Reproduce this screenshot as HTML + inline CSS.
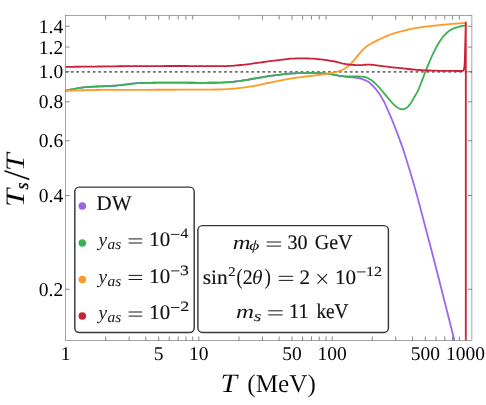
<!DOCTYPE html>
<html><head><meta charset="utf-8"><title>Plot</title><style>html,body{margin:0;padding:0;background:#fff}svg{display:block;text-rendering:geometricPrecision;will-change:transform}.ls{font-family:"Liberation Serif",serif}</style></head><body>
<svg width="486" height="405" viewBox="0 0 486 405">
<rect width="486" height="405" fill="#fff"/>
<path d="M65.5 71.8 H471.9" stroke="#6c6c6c" stroke-width="1.7" stroke-dasharray="2.6 2.87" fill="none"/>
<g fill="none" stroke-width="1.8" stroke-linejoin="round" stroke-linecap="butt">
<path d="M65.50 90.80 L67.08 90.43 L68.67 90.08 L70.25 89.74 L71.83 89.41 L73.42 89.10 L75.00 88.80 L76.67 88.49 L78.33 88.18 L80.00 87.88 L81.67 87.61 L83.33 87.38 L85.00 87.20 L87.00 87.04 L89.00 86.91 L91.00 86.79 L93.00 86.69 L95.00 86.59 L97.00 86.50 L99.17 86.41 L101.33 86.33 L103.50 86.26 L105.67 86.19 L107.83 86.10 L110.00 86.00 L112.00 85.88 L114.00 85.73 L116.00 85.56 L118.00 85.38 L120.00 85.19 L122.00 85.00 L124.67 84.71 L127.33 84.37 L130.00 84.01 L132.67 83.67 L135.33 83.39 L138.00 83.20 L140.00 83.10 L142.00 83.02 L144.00 82.95 L146.00 82.89 L148.00 82.84 L150.00 82.80 L151.67 82.78 L153.33 82.75 L155.00 82.73 L156.67 82.71 L158.33 82.70 L160.00 82.70 L163.67 82.70 L167.33 82.70 L171.00 82.70 L174.67 82.70 L178.33 82.70 L182.00 82.70 L185.00 82.71 L188.00 82.73 L191.00 82.75 L194.00 82.77 L197.00 82.79 L200.00 82.80 L202.95 82.80 L205.90 82.79 L208.85 82.77 L211.80 82.75 L214.75 82.73 L217.70 82.70 L219.80 82.65 L221.90 82.57 L224.00 82.45 L226.10 82.31 L228.20 82.16 L230.30 82.00 L232.38 81.82 L234.47 81.60 L236.55 81.35 L238.63 81.08 L240.72 80.79 L242.80 80.50 L244.90 80.19 L247.00 79.85 L249.10 79.50 L251.20 79.13 L253.30 78.76 L255.40 78.40 L257.50 78.03 L259.60 77.65 L261.70 77.26 L263.80 76.89 L265.90 76.53 L268.00 76.20 L270.08 75.90 L272.17 75.61 L274.25 75.34 L276.33 75.08 L278.42 74.83 L280.50 74.60 L282.58 74.37 L284.67 74.13 L286.75 73.91 L288.83 73.71 L290.92 73.53 L293.00 73.40 L294.32 73.33 L295.63 73.27 L296.95 73.21 L298.27 73.16 L299.58 73.13 L300.90 73.10 L302.70 73.07 L304.50 73.05 L306.30 73.03 L308.10 73.01 L309.90 73.00 L311.70 73.00 L313.52 73.01 L315.33 73.04 L317.15 73.09 L318.97 73.15 L320.78 73.22 L322.60 73.30 L324.42 73.41 L326.23 73.58 L328.05 73.80 L329.87 74.05 L331.68 74.32 L333.50 74.60 L334.58 74.80 L335.67 75.04 L336.75 75.30 L337.83 75.56 L338.92 75.80 L340.00 76.00 L341.67 76.25 L343.33 76.46 L345.00 76.66 L346.67 76.85 L348.33 77.02 L350.00 77.20 L351.37 77.33 L352.73 77.45 L354.10 77.56 L355.47 77.67 L356.83 77.82 L358.20 78.00 L358.88 78.12 L359.57 78.28 L360.25 78.46 L360.93 78.66 L361.62 78.88 L362.30 79.10 L363.00 79.33 L363.70 79.58 L364.40 79.85 L365.10 80.14 L365.80 80.46 L366.50 80.80 L367.18 81.17 L367.87 81.59 L368.55 82.04 L369.23 82.53 L369.92 83.05 L370.60 83.60 L371.28 84.19 L371.97 84.84 L372.65 85.53 L373.33 86.27 L374.02 87.02 L374.70 87.80 L375.38 88.60 L376.07 89.44 L376.75 90.31 L377.43 91.21 L378.12 92.14 L378.80 93.10 L379.28 93.80 L379.77 94.52 L380.25 95.26 L380.73 96.02 L381.22 96.80 L381.70 97.60 L382.15 98.36 L382.60 99.14 L383.05 99.94 L383.50 100.77 L383.95 101.62 L384.40 102.50 L385.00 103.73 L385.60 105.03 L386.20 106.37 L386.80 107.75 L387.40 109.13 L388.00 110.50 L388.68 112.05 L389.37 113.60 L390.05 115.17 L390.73 116.75 L391.42 118.36 L392.10 120.00 L392.77 121.64 L393.43 123.31 L394.10 125.01 L394.77 126.73 L395.43 128.47 L396.10 130.20 L396.72 131.81 L397.33 133.42 L397.95 135.04 L398.57 136.68 L399.18 138.33 L399.80 140.00 L400.42 141.68 L401.03 143.37 L401.65 145.08 L402.27 146.81 L402.88 148.58 L403.50 150.40 L404.12 152.28 L404.73 154.21 L405.35 156.19 L405.97 158.19 L406.58 160.20 L407.20 162.20 L407.82 164.19 L408.43 166.19 L409.05 168.20 L409.67 170.22 L410.28 172.25 L410.90 174.30 L411.55 176.48 L412.20 178.67 L412.85 180.87 L413.50 183.09 L414.15 185.34 L414.80 187.60 L415.42 189.77 L416.03 191.95 L416.65 194.16 L417.27 196.38 L417.88 198.63 L418.50 200.90 L419.12 203.20 L419.73 205.54 L420.35 207.90 L420.97 210.27 L421.58 212.64 L422.20 215.00 L422.82 217.35 L423.43 219.70 L424.05 222.05 L424.67 224.40 L425.28 226.75 L425.90 229.10 L427.03 233.41 L428.17 237.71 L429.30 242.01 L430.43 246.32 L431.57 250.65 L432.70 255.00 L434.50 261.96 L436.30 268.96 L438.10 275.98 L439.90 283.04 L441.70 290.11 L443.50 297.20 L445.32 304.37 L447.13 311.55 L448.95 318.76 L450.77 325.99 L452.58 333.23 L454.40 340.50" stroke="#9b66f2"/>
<path d="M65.50 90.80 L67.08 90.43 L68.67 90.08 L70.25 89.74 L71.83 89.41 L73.42 89.10 L75.00 88.80 L76.67 88.49 L78.33 88.18 L80.00 87.88 L81.67 87.61 L83.33 87.38 L85.00 87.20 L87.00 87.04 L89.00 86.91 L91.00 86.79 L93.00 86.69 L95.00 86.59 L97.00 86.50 L99.17 86.41 L101.33 86.33 L103.50 86.26 L105.67 86.19 L107.83 86.10 L110.00 86.00 L112.00 85.88 L114.00 85.73 L116.00 85.56 L118.00 85.38 L120.00 85.19 L122.00 85.00 L124.67 84.71 L127.33 84.37 L130.00 84.01 L132.67 83.67 L135.33 83.39 L138.00 83.20 L140.00 83.10 L142.00 83.02 L144.00 82.95 L146.00 82.89 L148.00 82.84 L150.00 82.80 L151.67 82.78 L153.33 82.75 L155.00 82.73 L156.67 82.71 L158.33 82.70 L160.00 82.70 L163.67 82.70 L167.33 82.70 L171.00 82.70 L174.67 82.70 L178.33 82.70 L182.00 82.70 L185.00 82.71 L188.00 82.73 L191.00 82.75 L194.00 82.77 L197.00 82.79 L200.00 82.80 L202.95 82.80 L205.90 82.79 L208.85 82.77 L211.80 82.75 L214.75 82.73 L217.70 82.70 L219.80 82.65 L221.90 82.57 L224.00 82.45 L226.10 82.31 L228.20 82.16 L230.30 82.00 L232.38 81.82 L234.47 81.60 L236.55 81.35 L238.63 81.08 L240.72 80.79 L242.80 80.50 L244.90 80.19 L247.00 79.85 L249.10 79.50 L251.20 79.13 L253.30 78.76 L255.40 78.40 L257.50 78.03 L259.60 77.65 L261.70 77.26 L263.80 76.89 L265.90 76.53 L268.00 76.20 L270.08 75.90 L272.17 75.61 L274.25 75.34 L276.33 75.08 L278.42 74.83 L280.50 74.60 L282.58 74.37 L284.67 74.13 L286.75 73.91 L288.83 73.71 L290.92 73.53 L293.00 73.40 L294.32 73.33 L295.63 73.27 L296.95 73.21 L298.27 73.16 L299.58 73.13 L300.90 73.10 L302.70 73.07 L304.50 73.05 L306.30 73.03 L308.10 73.01 L309.90 73.00 L311.70 73.00 L313.52 73.01 L315.33 73.04 L317.15 73.09 L318.97 73.15 L320.78 73.22 L322.60 73.30 L324.42 73.42 L326.23 73.59 L328.05 73.81 L329.87 74.06 L331.68 74.33 L333.50 74.60 L334.58 74.78 L335.67 75.00 L336.75 75.23 L337.83 75.46 L338.92 75.65 L340.00 75.80 L341.67 75.97 L343.33 76.14 L345.00 76.28 L346.67 76.40 L348.33 76.47 L350.00 76.50 L351.37 76.50 L352.73 76.50 L354.10 76.50 L355.47 76.50 L356.83 76.50 L358.20 76.50 L359.17 76.51 L360.13 76.55 L361.10 76.61 L362.07 76.69 L363.03 76.79 L364.00 76.90 L364.68 77.02 L365.37 77.20 L366.05 77.44 L366.73 77.71 L367.42 78.00 L368.10 78.30 L368.78 78.62 L369.47 78.99 L370.15 79.40 L370.83 79.84 L371.52 80.31 L372.20 80.80 L372.88 81.33 L373.57 81.90 L374.25 82.52 L374.93 83.17 L375.62 83.83 L376.30 84.50 L377.00 85.20 L377.70 85.93 L378.40 86.67 L379.10 87.44 L379.80 88.22 L380.50 89.00 L381.15 89.74 L381.80 90.50 L382.45 91.27 L383.10 92.04 L383.75 92.82 L384.40 93.60 L385.03 94.36 L385.67 95.13 L386.30 95.90 L386.93 96.67 L387.57 97.44 L388.20 98.20 L388.88 99.02 L389.57 99.86 L390.25 100.69 L390.93 101.50 L391.62 102.27 L392.30 103.00 L393.00 103.71 L393.70 104.40 L394.40 105.06 L395.10 105.69 L395.80 106.27 L396.50 106.80 L396.97 107.13 L397.43 107.46 L397.90 107.77 L398.37 108.05 L398.83 108.30 L399.30 108.50 L399.78 108.69 L400.27 108.87 L400.75 109.04 L401.23 109.17 L401.72 109.27 L402.20 109.30 L402.75 109.27 L403.30 109.19 L403.85 109.06 L404.40 108.89 L404.95 108.70 L405.50 108.50 L405.92 108.30 L406.33 108.02 L406.75 107.68 L407.17 107.30 L407.58 106.90 L408.00 106.50 L408.42 106.09 L408.83 105.65 L409.25 105.19 L409.67 104.69 L410.08 104.16 L410.50 103.60 L410.90 103.01 L411.30 102.35 L411.70 101.64 L412.10 100.92 L412.50 100.20 L412.90 99.50 L413.32 98.80 L413.73 98.11 L414.15 97.41 L414.57 96.72 L414.98 96.02 L415.40 95.30 L415.82 94.58 L416.23 93.87 L416.65 93.15 L417.07 92.41 L417.48 91.63 L417.90 90.80 L418.33 89.86 L418.77 88.85 L419.20 87.79 L419.63 86.70 L420.07 85.60 L420.50 84.50 L421.13 82.89 L421.77 81.24 L422.40 79.57 L423.03 77.89 L423.67 76.23 L424.30 74.60 L425.28 72.09 L426.27 69.58 L427.25 67.09 L428.23 64.65 L429.22 62.28 L430.20 60.00 L431.17 57.83 L432.13 55.71 L433.10 53.65 L434.07 51.66 L435.03 49.74 L436.00 47.90 L436.87 46.30 L437.73 44.74 L438.60 43.23 L439.47 41.79 L440.33 40.44 L441.20 39.20 L442.07 38.04 L442.93 36.94 L443.80 35.89 L444.67 34.92 L445.53 34.02 L446.40 33.20 L447.27 32.44 L448.13 31.73 L449.00 31.06 L449.87 30.44 L450.73 29.89 L451.60 29.40 L452.47 28.97 L453.33 28.57 L454.20 28.21 L455.07 27.88 L455.93 27.58 L456.80 27.30 L457.67 27.04 L458.53 26.80 L459.40 26.57 L460.27 26.36 L461.13 26.17 L462.00 26.00 L462.55 25.90 L463.10 25.81 L463.65 25.72 L464.20 25.64 L464.75 25.57 L465.30 25.50" stroke="#3ab250"/>
<path d="M65.50 90.80 L67.08 90.72 L68.67 90.64 L70.25 90.57 L71.83 90.50 L73.42 90.45 L75.00 90.40 L76.67 90.36 L78.33 90.32 L80.00 90.29 L81.67 90.25 L83.33 90.23 L85.00 90.20 L89.17 90.14 L93.33 90.07 L97.50 90.02 L101.67 89.97 L105.83 89.93 L110.00 89.90 L122.00 89.85 L134.00 89.82 L146.00 89.79 L158.00 89.77 L170.00 89.74 L182.00 89.70 L187.95 89.68 L193.90 89.66 L199.85 89.63 L205.80 89.60 L211.75 89.56 L217.70 89.50 L219.80 89.46 L221.90 89.38 L224.00 89.28 L226.10 89.17 L228.20 89.04 L230.30 88.90 L232.38 88.74 L234.47 88.56 L236.55 88.34 L238.63 88.10 L240.72 87.86 L242.80 87.60 L244.90 87.33 L247.00 87.04 L249.10 86.73 L251.20 86.41 L253.30 86.06 L255.40 85.70 L257.50 85.30 L259.60 84.86 L261.70 84.40 L263.80 83.92 L265.90 83.45 L268.00 83.00 L270.08 82.57 L272.17 82.15 L274.25 81.73 L276.33 81.31 L278.42 80.90 L280.50 80.50 L282.58 80.10 L284.67 79.69 L286.75 79.30 L288.83 78.91 L290.92 78.54 L293.00 78.20 L294.32 78.00 L295.63 77.81 L296.95 77.62 L298.27 77.45 L299.58 77.27 L300.90 77.10 L302.70 76.87 L304.50 76.66 L306.30 76.44 L308.10 76.23 L309.90 76.02 L311.70 75.80 L313.52 75.58 L315.33 75.35 L317.15 75.13 L318.97 74.90 L320.78 74.66 L322.60 74.40 L324.67 74.10 L326.73 73.80 L328.80 73.49 L330.87 73.14 L332.93 72.75 L335.00 72.30 L336.37 71.95 L337.73 71.55 L339.10 71.09 L340.47 70.58 L341.83 70.02 L343.20 69.40 L344.03 68.97 L344.87 68.49 L345.70 67.95 L346.53 67.37 L347.37 66.75 L348.20 66.10 L349.02 65.41 L349.83 64.65 L350.65 63.83 L351.47 62.97 L352.28 62.09 L353.10 61.20 L353.92 60.29 L354.73 59.33 L355.55 58.35 L356.37 57.36 L357.18 56.37 L358.00 55.40 L358.83 54.40 L359.67 53.39 L360.50 52.37 L361.33 51.39 L362.17 50.46 L363.00 49.60 L363.82 48.82 L364.63 48.08 L365.45 47.37 L366.27 46.71 L367.08 46.08 L367.90 45.50 L368.73 44.95 L369.57 44.44 L370.40 43.96 L371.23 43.50 L372.07 43.05 L372.90 42.60 L373.72 42.16 L374.53 41.74 L375.35 41.32 L376.17 40.91 L376.98 40.50 L377.80 40.10 L378.90 39.56 L380.00 39.03 L381.10 38.50 L382.20 37.98 L383.30 37.48 L384.40 37.00 L385.77 36.42 L387.13 35.85 L388.50 35.30 L389.87 34.77 L391.23 34.27 L392.60 33.80 L393.97 33.37 L395.33 32.97 L396.70 32.59 L398.07 32.22 L399.43 31.86 L400.80 31.50 L402.18 31.13 L403.57 30.77 L404.95 30.41 L406.33 30.06 L407.72 29.72 L409.10 29.40 L410.08 29.18 L411.07 28.97 L412.05 28.76 L413.03 28.57 L414.02 28.38 L415.00 28.20 L416.67 27.92 L418.33 27.65 L420.00 27.39 L421.67 27.15 L423.33 26.92 L425.00 26.70 L426.83 26.48 L428.67 26.27 L430.50 26.07 L432.33 25.88 L434.17 25.69 L436.00 25.50 L437.73 25.31 L439.47 25.12 L441.20 24.93 L442.93 24.75 L444.67 24.57 L446.40 24.40 L448.13 24.24 L449.87 24.08 L451.60 23.93 L453.33 23.78 L455.07 23.64 L456.80 23.50 L458.22 23.39 L459.63 23.29 L461.05 23.19 L462.47 23.09 L463.88 22.99 L465.30 22.90" stroke="#ff9a24"/>
<path d="M65.50 66.90 L71.25 66.83 L77.00 66.76 L82.75 66.69 L88.50 66.63 L94.25 66.56 L100.00 66.50 L106.67 66.42 L113.33 66.34 L120.00 66.27 L126.67 66.19 L133.33 66.14 L140.00 66.10 L147.00 66.07 L154.00 66.05 L161.00 66.03 L168.00 66.01 L175.00 66.00 L182.00 66.00 L185.83 66.01 L189.67 66.05 L193.50 66.10 L197.33 66.15 L201.17 66.19 L205.00 66.20 L207.50 66.20 L210.00 66.20 L212.50 66.20 L215.00 66.20 L217.50 66.20 L220.00 66.20 L221.72 66.19 L223.43 66.16 L225.15 66.11 L226.87 66.04 L228.58 65.97 L230.30 65.90 L232.38 65.79 L234.47 65.63 L236.55 65.45 L238.63 65.24 L240.72 65.02 L242.80 64.80 L244.90 64.57 L247.00 64.32 L249.10 64.05 L251.20 63.77 L253.30 63.48 L255.40 63.20 L257.50 62.91 L259.60 62.61 L261.70 62.30 L263.80 61.99 L265.90 61.69 L268.00 61.40 L270.08 61.12 L272.17 60.84 L274.25 60.56 L276.33 60.29 L278.42 60.04 L280.50 59.80 L282.58 59.56 L284.67 59.32 L286.75 59.09 L288.83 58.88 L290.92 58.71 L293.00 58.60 L294.32 58.55 L295.63 58.50 L296.95 58.46 L298.27 58.43 L299.58 58.41 L300.90 58.40 L302.70 58.41 L304.50 58.43 L306.30 58.46 L308.10 58.50 L309.90 58.55 L311.70 58.60 L313.52 58.69 L315.33 58.84 L317.15 59.03 L318.97 59.25 L320.78 59.48 L322.60 59.70 L324.67 59.95 L326.73 60.21 L328.80 60.49 L330.87 60.80 L332.93 61.13 L335.00 61.50 L336.37 61.80 L337.73 62.16 L339.10 62.55 L340.47 62.95 L341.83 63.30 L343.20 63.60 L344.58 63.85 L345.97 64.09 L347.35 64.32 L348.73 64.51 L350.12 64.68 L351.50 64.80 L352.87 64.90 L354.23 64.99 L355.60 65.07 L356.97 65.14 L358.33 65.18 L359.70 65.20 L361.07 65.16 L362.43 65.04 L363.80 64.90 L365.17 64.76 L366.53 64.64 L367.90 64.60 L368.73 64.61 L369.57 64.65 L370.40 64.70 L371.23 64.76 L372.07 64.83 L372.90 64.90 L374.82 65.08 L376.73 65.32 L378.65 65.59 L380.57 65.87 L382.48 66.15 L384.40 66.40 L387.13 66.72 L389.87 67.03 L392.60 67.33 L395.33 67.62 L398.07 67.91 L400.80 68.20 L403.17 68.46 L405.53 68.73 L407.90 69.00 L410.27 69.26 L412.63 69.50 L415.00 69.70 L416.83 69.84 L418.67 69.98 L420.50 70.10 L422.33 70.22 L424.17 70.32 L426.00 70.40 L429.17 70.52 L432.33 70.62 L435.50 70.72 L438.67 70.80 L441.83 70.86 L445.00 70.90 L447.60 70.93 L450.20 70.95 L452.80 70.97 L455.40 70.99 L458.00 71.00 L460.60 71.00 L462.80 70.90 L463.70 70.00 L464.40 67.50 L464.80 61.00 L465.30 42.00 L465.80 22.40 L465.80 340.50" stroke="#cc2037"/>
</g>
<rect x="65.5" y="15.6" width="406.4" height="324.9" fill="none" stroke="#686868" stroke-width="0.6"/>
<path d="M105.64 340.5 v-4.0 M105.64 15.6 v4.0 M129.11 340.5 v-4.0 M129.11 15.6 v4.0 M145.77 340.5 v-4.0 M145.77 15.6 v4.0 M158.69 340.5 v-4.0 M158.69 15.6 v4.0 M169.25 340.5 v-4.0 M169.25 15.6 v4.0 M178.18 340.5 v-4.0 M178.18 15.6 v4.0 M185.91 340.5 v-4.0 M185.91 15.6 v4.0 M192.73 340.5 v-4.0 M192.73 15.6 v4.0 M198.83 340.5 v-4.0 M238.97 340.5 v-4.0 M238.97 15.6 v4.0 M262.44 340.5 v-4.0 M262.44 15.6 v4.0 M279.10 340.5 v-4.0 M279.10 15.6 v4.0 M292.02 340.5 v-4.0 M292.02 15.6 v4.0 M302.58 340.5 v-4.0 M302.58 15.6 v4.0 M311.51 340.5 v-4.0 M311.51 15.6 v4.0 M319.24 340.5 v-4.0 M319.24 15.6 v4.0 M326.06 340.5 v-4.0 M326.06 15.6 v4.0 M332.16 340.5 v-4.0 M372.30 340.5 v-4.0 M372.30 15.6 v4.0 M395.77 340.5 v-4.0 M395.77 15.6 v4.0 M412.43 340.5 v-4.0 M412.43 15.6 v4.0 M425.35 340.5 v-4.0 M425.35 15.6 v4.0 M435.91 340.5 v-4.0 M435.91 15.6 v4.0 M444.84 340.5 v-4.0 M444.84 15.6 v4.0 M452.57 340.5 v-4.0 M452.57 15.6 v4.0 M459.39 340.5 v-4.0 M459.39 15.6 v4.0 M465.49 340.5 v-4.0 M65.5 289.22 h4.1 M471.9 289.22 h-4.1 M65.5 195.54 h4.1 M471.9 195.54 h-4.1 M65.5 140.74 h4.1 M471.9 140.74 h-4.1 M65.5 101.86 h4.1 M471.9 101.86 h-4.1 M65.5 71.70 h4.1 M471.9 71.70 h-4.1 M65.5 47.06 h4.1 M471.9 47.06 h-4.1 M65.5 26.23 h4.1 M471.9 26.23 h-4.1" stroke="#686868" stroke-width="0.8" fill="none"/>
<g class="ls" font-size="19.5" fill="#000">
<text x="63.2" y="295.7" text-anchor="end">0.2</text>
<text x="63.2" y="202.0" text-anchor="end">0.4</text>
<text x="63.2" y="147.2" text-anchor="end">0.6</text>
<text x="63.2" y="108.3" text-anchor="end">0.8</text>
<text x="63.2" y="78.2" text-anchor="end">1.0</text>
<text x="63.2" y="53.5" text-anchor="end">1.2</text>
<text x="63.2" y="32.7" text-anchor="end">1.4</text>
<text x="65.5" y="359.7" text-anchor="middle">1</text>
<text x="158.7" y="359.7" text-anchor="middle">5</text>
<text x="198.8" y="359.7" text-anchor="middle">10</text>
<text x="292.0" y="359.7" text-anchor="middle">50</text>
<text x="332.2" y="359.7" text-anchor="middle">100</text>
<text x="425.4" y="359.7" text-anchor="middle">500</text>
<text x="465.5" y="359.7" text-anchor="middle">1000</text>
</g>
<g class="ls">
<g transform="translate(23.6,205.2) rotate(-90)">
<text transform="translate(-2.15,0.00) scale(1.239,1.000)" font-size="26.7" font-style="italic" fill="#000" stroke="#fff" stroke-width="0.11">T</text>
<text transform="translate(15.58,3.90) scale(0.949,1.000)" font-size="18.8" font-style="italic" fill="#000" stroke="#000" stroke-width="0.31">s</text>
<text transform="translate(24.90,5.19) scale(0.999,1.000)" font-size="37.5" fill="#000" stroke="#fff" stroke-width="0.12">/</text>
<text transform="translate(34.01,0.00) scale(1.205,1.000)" font-size="26.7" font-style="italic" fill="#000" stroke="#fff" stroke-width="0.11">T</text>
</g>
<text transform="translate(220.56,392.20) scale(1.129,1.000)" font-size="26.4" font-style="italic" fill="#000" stroke="#fff" stroke-width="0.11">T</text>
<text transform="translate(247.33,392.20) scale(0.983,1.000)" font-size="25.6" fill="#000" stroke="#fff" stroke-width="0.12">(MeV)</text>
</g>
<rect x="74.8" y="187.1" width="119.4" height="145.4" rx="4.5" fill="#fff" stroke="#383838" stroke-width="1.45"/>
<rect x="197.9" y="225.6" width="190.5" height="106.8" rx="4.5" fill="#fff" stroke="#383838" stroke-width="1.45"/>
<circle cx="82.3" cy="206.0" r="3.75" fill="#9863e4"/>
<circle cx="82.3" cy="242.9" r="3.75" fill="#3ab250"/>
<circle cx="82.3" cy="279.4" r="3.75" fill="#ff9a24"/>
<circle cx="82.3" cy="316.0" r="3.75" fill="#cc2037"/>
<g class="ls">
<text transform="translate(96.52,209.90) scale(1.000,1.000)" font-size="21.0" fill="#111" stroke="#111" stroke-width="0.15">DW</text>
<text transform="translate(98.60,246.00) scale(0.987,1.000)" font-size="19.6" font-style="italic" fill="#111" stroke="#fff" stroke-width="0.05">y</text>
<text transform="translate(107.44,249.10) scale(1.035,1.000)" font-size="14.9" font-style="italic" fill="#111" stroke="#fff" stroke-width="0.00">as</text>
<path d="M128.60 238.90 h13.6 M128.60 243.00 h13.6" stroke="#1a1a1a" stroke-width="1.0" fill="none"/>
<text transform="translate(149.27,246.30) scale(1.010,1.000)" font-size="20.7" fill="#111" stroke="#111" stroke-width="0.15">10</text>
<path d="M171.00 234.40 H179.40" stroke="#1a1a1a" stroke-width="0.95" fill="none"/>
<text transform="translate(180.59,238.20) scale(1.106,1.000)" font-size="14.2" fill="#111" stroke="#111" stroke-width="0.14">4</text>
<text transform="translate(98.60,282.50) scale(0.987,1.000)" font-size="19.6" font-style="italic" fill="#111" stroke="#fff" stroke-width="0.05">y</text>
<text transform="translate(107.44,285.60) scale(1.035,1.000)" font-size="14.9" font-style="italic" fill="#111" stroke="#fff" stroke-width="0.00">as</text>
<path d="M128.60 275.40 h13.6 M128.60 279.50 h13.6" stroke="#1a1a1a" stroke-width="1.0" fill="none"/>
<text transform="translate(149.27,282.80) scale(1.010,1.000)" font-size="20.7" fill="#111" stroke="#111" stroke-width="0.15">10</text>
<path d="M171.00 270.90 H179.40" stroke="#1a1a1a" stroke-width="0.95" fill="none"/>
<text transform="translate(180.06,274.70) scale(1.246,1.000)" font-size="14.2" fill="#111" stroke="#111" stroke-width="0.13">3</text>
<text transform="translate(98.60,319.10) scale(0.987,1.000)" font-size="19.6" font-style="italic" fill="#111" stroke="#fff" stroke-width="0.05">y</text>
<text transform="translate(107.44,322.20) scale(1.035,1.000)" font-size="14.9" font-style="italic" fill="#111" stroke="#fff" stroke-width="0.00">as</text>
<path d="M128.60 312.00 h13.6 M128.60 316.10 h13.6" stroke="#1a1a1a" stroke-width="1.0" fill="none"/>
<text transform="translate(149.27,319.40) scale(1.010,1.000)" font-size="20.7" fill="#111" stroke="#111" stroke-width="0.15">10</text>
<path d="M171.00 307.50 H179.40" stroke="#1a1a1a" stroke-width="0.95" fill="none"/>
<text transform="translate(180.13,311.30) scale(1.277,1.000)" font-size="14.2" fill="#111" stroke="#111" stroke-width="0.13">2</text>
<text transform="translate(232.64,249.40) scale(1.258,1.000)" font-size="19.6" font-style="italic" fill="#111" stroke="#fff" stroke-width="0.04">m</text>
<text transform="translate(249.37,250.20) scale(1.376,1.000)" font-size="14.0" font-style="italic" fill="#111" stroke="#fff" stroke-width="0.00">ϕ</text>
<path d="M266.70 242.00 h14.4 M266.70 246.10 h14.4" stroke="#1a1a1a" stroke-width="1.0" fill="none"/>
<text transform="translate(287.44,249.40) scale(0.971,1.000)" font-size="20.7" fill="#111" stroke="#111" stroke-width="0.15">30</text>
<text transform="translate(314.70,249.40) scale(0.957,1.000)" font-size="20.9" fill="#111" stroke="#111" stroke-width="0.15">GeV</text>
<text transform="translate(202.74,283.70) scale(1.033,1.000)" font-size="20.7" fill="#111" stroke="#111" stroke-width="0.15">sin</text>
<text transform="translate(228.18,275.80) scale(1.094,1.000)" font-size="13.4" fill="#111" stroke="#111" stroke-width="0.14">2</text>
<text transform="translate(236.44,283.70) scale(0.812,1.000)" font-size="22" fill="#111" stroke="#111" stroke-width="0.17">(</text>
<text transform="translate(242.76,283.70) scale(0.960,1.000)" font-size="20.7" fill="#111" stroke="#111" stroke-width="0.15">2</text>
<text transform="translate(251.98,283.70) scale(1.045,1.000)" font-size="20.5" font-style="italic" fill="#111" stroke="#fff" stroke-width="0.05">θ</text>
<text transform="translate(264.81,283.70) scale(0.830,1.000)" font-size="22" fill="#111" stroke="#111" stroke-width="0.16">)</text>
<path d="M278.80 276.30 h14.4 M278.80 280.40 h14.4" stroke="#1a1a1a" stroke-width="1.0" fill="none"/>
<text transform="translate(299.50,283.70) scale(1.020,1.000)" font-size="20.7" fill="#111" stroke="#111" stroke-width="0.15">2</text>
<path d="M317.60 274.20 L327.00 283.60 M317.60 283.60 L327.00 274.20" stroke="#1a1a1a" stroke-width="1.1" fill="none"/>
<text transform="translate(334.95,283.70) scale(1.021,1.000)" font-size="20.7" fill="#111" stroke="#111" stroke-width="0.15">10</text>
<path d="M356.90 271.90 H365.60" stroke="#1a1a1a" stroke-width="0.95" fill="none"/>
<text transform="translate(365.89,276.20) scale(1.166,1.000)" font-size="13.8" fill="#111" stroke="#111" stroke-width="0.14">12</text>
<text transform="translate(236.03,318.20) scale(1.274,1.000)" font-size="19.6" font-style="italic" fill="#111" stroke="#fff" stroke-width="0.04">m</text>
<text transform="translate(253.76,321.00) scale(1.313,1.000)" font-size="14.9" font-style="italic" fill="#111" stroke="#fff" stroke-width="0.00">s</text>
<path d="M268.20 310.80 h14.4 M268.20 314.90 h14.4" stroke="#1a1a1a" stroke-width="1.0" fill="none"/>
<text transform="translate(289.02,318.20) scale(0.984,1.000)" font-size="20.7" fill="#111" stroke="#111" stroke-width="0.15">11</text>
<text transform="translate(316.41,318.20) scale(0.922,1.000)" font-size="20.9" fill="#111" stroke="#111" stroke-width="0.16">keV</text>
</g>
</svg>
</body></html>
